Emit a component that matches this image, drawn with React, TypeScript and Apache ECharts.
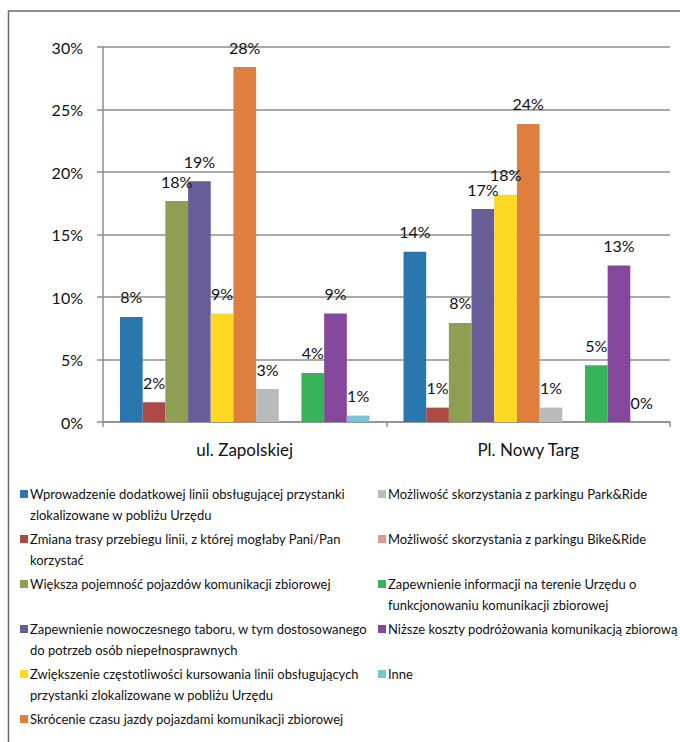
import React, { useEffect, useRef } from 'react';
import * as echarts from 'echarts';

const categories = ['ul. Zapolskiej', 'Pl. Nowy Targ'];

// legend labels ("\n" marks where the legend wraps the text)
const seriesLabels = [
  'Wprowadzenie dodatkowej linii obsługującej przystanki\nzlokalizowane w pobliżu Urzędu',
  'Zmiana trasy przebiegu linii, z której mogłaby Pani/Pan\nkorzystać',
  'Większa pojemność pojazdów komunikacji zbiorowej',
  'Zapewnienie nowoczesnego taboru, w tym dostosowanego\ndo potrzeb osób niepełnosprawnych',
  'Zwiększenie częstotliwości kursowania linii obsługujących\nprzystanki zlokalizowane w pobliżu Urzędu',
  'Skrócenie czasu jazdy pojazdami komunikacji zbiorowej',
  'Możliwość skorzystania z parkingu Park&Ride',
  'Możliwość skorzystania z parkingu Bike&Ride',
  'Zapewnienie informacji na terenie Urzędu o\nfunkcjonowaniu komunikacji zbiorowej',
  'Niższe koszty podróżowania komunikacją zbiorową',
  'Inne',
];

// values in percent, one entry per series (same order as seriesLabels)
const zapolskiejValues = [8.41, 1.58, 17.68, 19.26, 8.69, 28.4, 2.64, null, 3.93, 8.69, 0.51];
const nowyTargValues = [13.62, 1.15, 7.93, 17.04, 18.19, 23.85, 1.15, null, 4.54, 12.52, 0];

const yMin = 0;
const yMax = 30;
const yInterval = 5;

const seriesColors = [
  '#2a77ae', '#ae4a46', '#8c9f52', '#685d97', '#fdd923', '#df7f3f',
  '#b8bbbd', '#d9989b', '#37b45a', '#85479c', '#78c3d8',
];

const FONT = 'Lato, "Liberation Sans", sans-serif';

export default function App() {
  const ref = useRef<HTMLDivElement>(null);

  useEffect(() => {
    if (!ref.current) return;
    const chart = echarts.init(ref.current, undefined, { renderer: 'svg' });

    const names = seriesLabels.map((s) => s.replace('\n', ' '));

    const series = names.map((name, i) => ({
      name,
      type: 'bar',
      data: [zapolskiejValues[i], nowyTargValues[i]],
      itemStyle: { color: seriesColors[i] },
      barGap: '0%',
      barCategoryGap: '12%',
      label: {
        show: true,
        position: 'top',
        distance: 12,
        fontFamily: FONT,
        fontSize: 16,
        color: '#111',
        formatter: (p: any) => `${Math.round(p.value)}%`,
      },
    }));

    // legend drawn as graphic: two columns
    const legendGraphics: any[] = [];
    const colX = [20, 378];
    const rowStart = 494;
    const rowStep = 45;
    const lineH = 20.5;
    seriesLabels.forEach((label, i) => {
      const col = i < 6 ? 0 : 1;
      const row = i < 6 ? i : i - 6;
      const cy = rowStart + row * rowStep;
      legendGraphics.push({
        type: 'rect',
        silent: true,
        shape: { x: colX[col], y: cy - 4, width: 8, height: 8 },
        style: { fill: seriesColors[i] },
      });
      legendGraphics.push({
        type: 'text',
        silent: true,
        x: colX[col] + 10,
        y: cy - lineH / 2,
        style: {
          text: label,
          fill: '#111',
          fontFamily: FONT,
          fontSize: 13,
          lineHeight: lineH,
          align: 'left',
          verticalAlign: 'top',
        },
      });
    });

    chart.setOption({
      animation: false,
      grid: { left: 103, right: 10, top: 47, bottom: 320, containLabel: false },
      xAxis: {
        type: 'category',
        data: categories,
        axisLine: { lineStyle: { color: '#8e8e8e', width: 1.5 } },
        axisTick: { show: true, length: 5, lineStyle: { color: '#8e8e8e', width: 1.5 } },
        axisLabel: {
          fontFamily: FONT,
          fontSize: 17,
          color: '#111',
          margin: 19,
        },
      },
      yAxis: {
        type: 'value',
        min: yMin,
        max: yMax,
        interval: yInterval,
        axisLine: { show: true, lineStyle: { color: '#8e8e8e', width: 1.5 } },
        axisTick: { show: true, length: 6, lineStyle: { color: '#8e8e8e', width: 1.5 } },
        splitLine: { show: true, lineStyle: { color: '#8e8e8e', width: 1.5 } },
        axisLabel: {
          fontFamily: FONT,
          fontSize: 16,
          color: '#111',
          margin: 20,
          formatter: (v: number) => `${v}%`,
        },
      },
      series,
      graphic: [
        {
          type: 'rect',
          silent: true,
          z: -1,
          shape: { x: 8.5, y: 11, width: 720, height: 780 },
          style: { fill: 'none', stroke: '#6a6a6a', lineWidth: 1.5 },
        },
        ...legendGraphics,
      ],
    });

    return () => chart.dispose();
  }, []);

  return (
    <div
      ref={ref}
      style={{ position: 'absolute', left: 0, top: 0, width: 680, height: 742, background: '#fff' }}
    />
  );
}
